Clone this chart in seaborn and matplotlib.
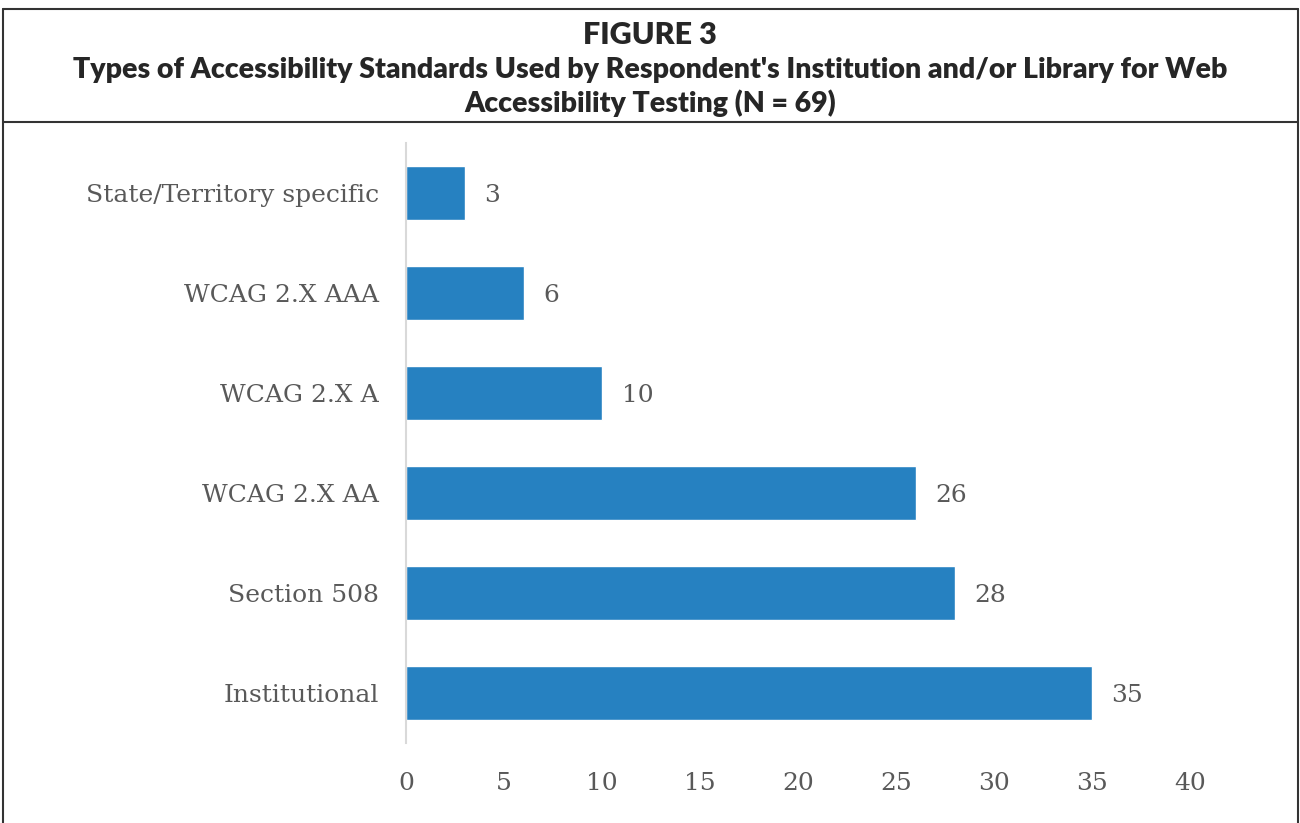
import matplotlib
matplotlib.use("Agg")
import matplotlib.pyplot as plt
import seaborn as sns
import pandas as pd
from matplotlib.lines import Line2D

categories = ["State/Territory specific", "WCAG 2.X AAA", "WCAG 2.X A",
              "WCAG 2.X AA", "Section 508", "Institutional"]
counts = [3, 6, 10, 26, 28, 35]
xticks = [0, 5, 10, 15, 20, 25, 30, 35, 40]

df = pd.DataFrame({"standard": categories, "count": counts})

sns.set_theme(style="white")
grey = "#595959"
bar_color = "#2681C1"
serif = "DejaVu Serif"

fig = plt.figure(figsize=(13, 8.23), dpi=100)
ax = fig.add_axes([406 / 1300, 1 - 743 / 823, 784 / 1300, 600 / 823])

sns.barplot(data=df, x="count", y="standard", color=bar_color, width=0.54,
            saturation=1, ax=ax, orient="h")

ax.set_xlim(0, 40)
ax.set_xticks(xticks)
ax.set_xlabel("")
ax.set_ylabel("")
for s in ["top", "right", "bottom"]:
    ax.spines[s].set_visible(False)
ax.spines["left"].set_color("#D9D9D9")
ax.spines["left"].set_linewidth(1.5)
ax.tick_params(axis="both", length=0, colors=grey)
ax.tick_params(axis="x", pad=21)
ax.tick_params(axis="y", pad=19.5)
for lbl in ax.get_xticklabels() + ax.get_yticklabels():
    lbl.set_fontfamily(serif)
    lbl.set_fontsize(18)
    lbl.set_color(grey)

for i, v in enumerate(counts):
    ax.text(v + 1.0, i, str(v), va="center_baseline", ha="left", fontsize=18,
            color=grey, family=serif)

# frame and header
edge = "#333333"
fig.add_artist(Line2D([3 / 1300, 3 / 1300], [0, 1 - 9 / 823], transform=fig.transFigure, color=edge, lw=1.5))
fig.add_artist(Line2D([1298 / 1300, 1298 / 1300], [0, 1 - 9 / 823], transform=fig.transFigure, color=edge, lw=1.5))
fig.add_artist(Line2D([3 / 1300, 1298 / 1300], [1 - 9 / 823, 1 - 9 / 823], transform=fig.transFigure, color=edge, lw=1.5))
fig.add_artist(Line2D([3 / 1300, 1298 / 1300], [1 - 122 / 823, 1 - 122 / 823], transform=fig.transFigure, color=edge, lw=1.5))

fig.text(0.5, 1 - 35 / 823, "FIGURE 3", ha="center", va="center",
         fontsize=22, fontweight="heavy", family="Lato")
fig.text(0.5, 1 - 70 / 823, "Types of Accessibility Standards Used by Respondent's Institution and/or Library for Web",
         ha="center", va="center", fontsize=20.5, fontweight="heavy", family="Lato")
fig.text(0.5, 1 - 103 / 823, "Accessibility Testing (N = 69)",
         ha="center", va="center", fontsize=20.5, fontweight="heavy", family="Lato")

fig.savefig("out.png", dpi=100)
